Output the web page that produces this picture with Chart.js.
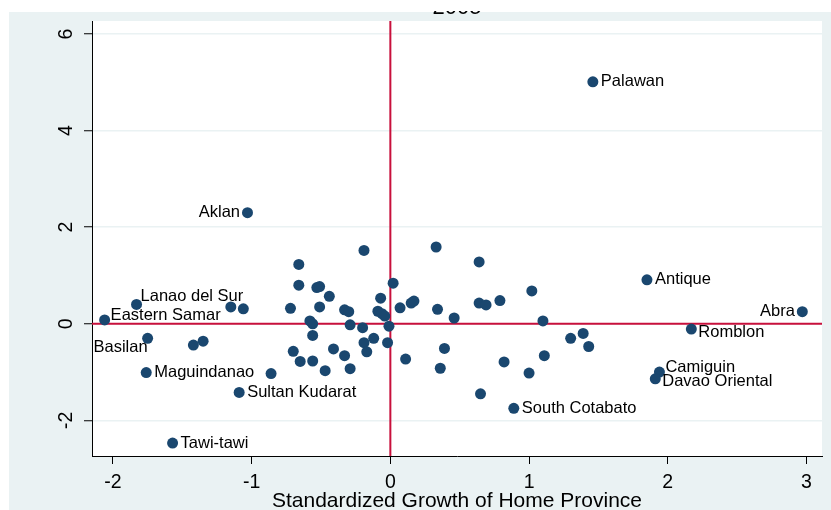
<!DOCTYPE html>
<html>
<head>
<meta charset="utf-8">
<script src="https://cdn.jsdelivr.net/npm/chart.js@4.4.1/dist/chart.umd.min.js"></script>
<style>
  html, body { margin: 0; padding: 0; background: #fff; }
  #c { display: block; }
</style>
</head>
<body>
<canvas id="c" width="831" height="510"></canvas>
<script>
// Province names (empty string = unlabeled marker)
const provinces = [
  'Palawan', 'Aklan', 'Antique', 'Abra', 'Romblon', 'Camiguin', 'Davao Oriental',
  'South Cotabato', 'Lanao del Sur', 'Eastern Samar', 'Basilan', 'Maguindanao',
  'Sultan Kudarat', 'Tawi-tawi',
  '', '', '', '', '', '', '', '', '', '', '', '', '', '', '', '', '', '', '', '',
  '', '', '', '', '', '', '', '', '', '', '', '', '', '', '', '', '', '', '', '',
  '', '', '', '', '', '', '', '', '', '', '', '', '', '', '', '', '', '', ''
];

// Standardized growth of home province
const growth = [
  1.46, -1.03, 1.85, 2.97, 2.17, 1.94, 1.91,
  0.89, -1.83, -2.06, -1.75, -1.76,
  -1.09, -1.57,
  -0.19, -0.66, -0.66, -0.53, -0.51, -0.44, 0.02, -1.15, -1.06, -0.72,
  -0.51, -0.07, -0.33, -0.30, -0.09, -0.06, -0.04, 0.07, 0.15, 0.17,
  -0.58, -0.56, -0.29, -0.20, -0.01, -1.42, -1.35, -0.56, -0.12, -0.19,
  -0.02, -0.70, -0.41, -0.17, -0.33, -0.65, -0.56, -0.47, -0.29, -0.86,
  0.33, 0.64, 1.02, 0.34, 0.64, 0.69, 0.79, 0.46, 1.10, 1.30,
  1.39, 1.43, 0.39, 0.11, 0.36, 0.82, 1.11, 1.00, 0.65
];

// Outcome values on the vertical axis
const outcome = [
  5.01, 2.30, 0.91, 0.25, -0.11, -1.00, -1.14,
  -1.75, 0.40, 0.08, -0.30, -1.01,
  -1.42, -2.47,
  1.52, 1.23, 0.80, 0.75, 0.77, 0.57, 0.84, 0.35, 0.31, 0.32,
  0.35, 0.53, 0.29, 0.25, 0.26, 0.21, 0.16, 0.33, 0.43, 0.47,
  0.06, 0.00, -0.02, -0.08, -0.05, -0.44, -0.36, -0.24, -0.30, -0.39,
  -0.39, -0.57, -0.52, -0.58, -0.66, -0.78, -0.77, -0.97, -0.93, -1.03,
  1.59, 1.28, 0.68, 0.30, 0.43, 0.39, 0.48, 0.12, 0.06, -0.30,
  -0.20, -0.47, -0.51, -0.73, -0.92, -0.79, -0.66, -1.02, -1.45
];

const xTicks = [-2, -1, 0, 1, 2, 3];
const xTickLabels = ['-2', '-1', '0', '1', '2', '3'];
const yTicks = [-2, 0, 2, 4, 6];
const yTickLabels = ['-2', '0', '2', '4', '6'];

const chartTitle = '2005';
const xTitle = 'Standardized Growth of Home Province';

// Clock position of each marker label
const labelClock = {
  'Palawan': 3, 'Aklan': 9, 'Antique': 3, 'Abra': 9, 'Romblon': 4,
  'Camiguin': 2, 'Davao Oriental': 4, 'South Cotabato': 3, 'Lanao del Sur': 1,
  'Eastern Samar': 2, 'Basilan': 7, 'Maguindanao': 3, 'Sultan Kudarat': 3,
  'Tawi-tawi': 3
};

const FONT = '"Liberation Sans", Arial, Helvetica, sans-serif';
const BG = '#eaf2f3';
const MARKER = '#1a476f';
const REFLINE = '#c8103c';

Chart.defaults.font.family = FONT;

const points = growth.map((x, i) => ({ x: x, y: outcome[i] }));

const backdrop = {
  id: 'backdrop',
  beforeDraw(chart) {
    const { ctx, chartArea: a } = chart;
    ctx.save();
    ctx.fillStyle = '#ffffff';
    ctx.fillRect(0, 0, chart.width, chart.height);
    ctx.fillStyle = BG;
    ctx.fillRect(9, 12, chart.width - 9, chart.height - 12);
    ctx.fillStyle = '#ffffff';
    ctx.fillRect(a.left, a.top, a.right - a.left, a.bottom - a.top);
    ctx.restore();
  }
};

const refLines = {
  id: 'refLines',
  beforeDatasetsDraw(chart) {
    const { ctx, chartArea: a, scales } = chart;
    const x0 = scales.x.getPixelForValue(0);
    const y0 = scales.y.getPixelForValue(0);
    ctx.save();
    ctx.strokeStyle = REFLINE;
    ctx.lineWidth = 2;
    ctx.beginPath();
    ctx.moveTo(a.left, y0);
    ctx.lineTo(a.right, y0);
    ctx.moveTo(x0, a.top);
    ctx.lineTo(x0, a.bottom);
    ctx.stroke();
    ctx.restore();
  }
};

const markerLabels = {
  id: 'markerLabels',
  afterDatasetsDraw(chart) {
    const { ctx } = chart;
    const meta = chart.getDatasetMeta(0);
    ctx.save();
    ctx.font = '16.5px ' + FONT;
    ctx.fillStyle = '#000';
    ctx.textBaseline = 'middle';
    meta.data.forEach((pt, i) => {
      const name = provinces[i];
      if (!name) return;
      const clock = labelClock[name] || 3;
      let x = pt.x, y = pt.y;
      switch (clock) {
        case 1: ctx.textAlign = 'left'; x += 4; y -= 8; break;
        case 2: ctx.textAlign = 'left'; x += 6; y -= 4.5; break;
        case 3: ctx.textAlign = 'left'; x += 8; break;
        case 4: ctx.textAlign = 'left'; x += 7; y += 3; break;
        case 7: ctx.textAlign = 'right'; x += 0; y += 9; break;
        case 9: ctx.textAlign = 'right'; x -= 7.5; break;
      }
      ctx.fillText(name, x, y);
    });
    ctx.restore();
  }
};

const axisText = {
  id: 'axisText',
  afterDraw(chart) {
    const { ctx, scales } = chart;
    ctx.save();
    // vertical tick labels, reading upward
    ctx.font = '19.5px ' + FONT;
    ctx.fillStyle = '#000';
    ctx.textAlign = 'center';
    ctx.textBaseline = 'alphabetic';
    yTicks.forEach((v, i) => {
      const py = scales.y.getPixelForValue(v);
      ctx.save();
      ctx.translate(72, py);
      ctx.rotate(-Math.PI / 2);
      ctx.fillText(yTickLabels[i], 0, 0);
      ctx.restore();
    });
    // graph title, clipped by the top margin
    ctx.beginPath();
    ctx.rect(0, 11, chart.width, chart.height - 11);
    ctx.clip();
    ctx.font = '22px ' + FONT;
    ctx.textAlign = 'center';
    ctx.fillText(chartTitle, (chart.chartArea.left + chart.chartArea.right) / 2, 14);
    ctx.restore();
  }
};

new Chart(document.getElementById('c'), {
  type: 'scatter',
  data: {
    datasets: [{
      data: points,
      backgroundColor: MARKER,
      borderWidth: 0,
      pointRadius: 5.5,
      pointHoverRadius: 5.5
    }]
  },
  options: {
    responsive: false,
    animation: false,
    events: [],
    layout: { padding: { top: 21, right: 9, left: 0, bottom: 0 } },
    plugins: {
      legend: { display: false },
      tooltip: { enabled: false },
      title: { display: false }
    },
    scales: {
      x: {
        type: 'linear',
        min: -2.151,
        max: 3.112,
        afterBuildTicks: s => { s.ticks = xTicks.map(v => ({ value: v })); },
        afterFit: s => { s.height = 54; },
        grid: { drawOnChartArea: false, drawTicks: true, tickLength: 8, tickColor: '#000', tickWidth: 1 },
        border: { display: true, color: '#000', width: 1 },
        ticks: {
          color: '#000',
          font: { size: 19.5 },
          padding: 7,
          autoSkip: false,
          maxRotation: 0,
          callback: v => xTickLabels[xTicks.indexOf(v)]
        },
        title: {
          display: true,
          text: xTitle,
          color: '#000',
          font: { size: 21, lineHeight: 0.8 },
          padding: 0
        }
      },
      y: {
        type: 'linear',
        min: -2.737,
        max: 6.269,
        afterBuildTicks: s => { s.ticks = yTicks.map(v => ({ value: v })); },
        afterFit: s => { s.width = 92; },
        grid: { color: BG, lineWidth: 1.5, drawTicks: true, tickLength: 8, tickColor: '#000', tickWidth: 1 },
        border: { display: true, color: '#000', width: 1 },
        ticks: { display: false }
      }
    }
  },
  plugins: [backdrop, refLines, markerLabels, axisText]
});
</script>
</body>
</html>
